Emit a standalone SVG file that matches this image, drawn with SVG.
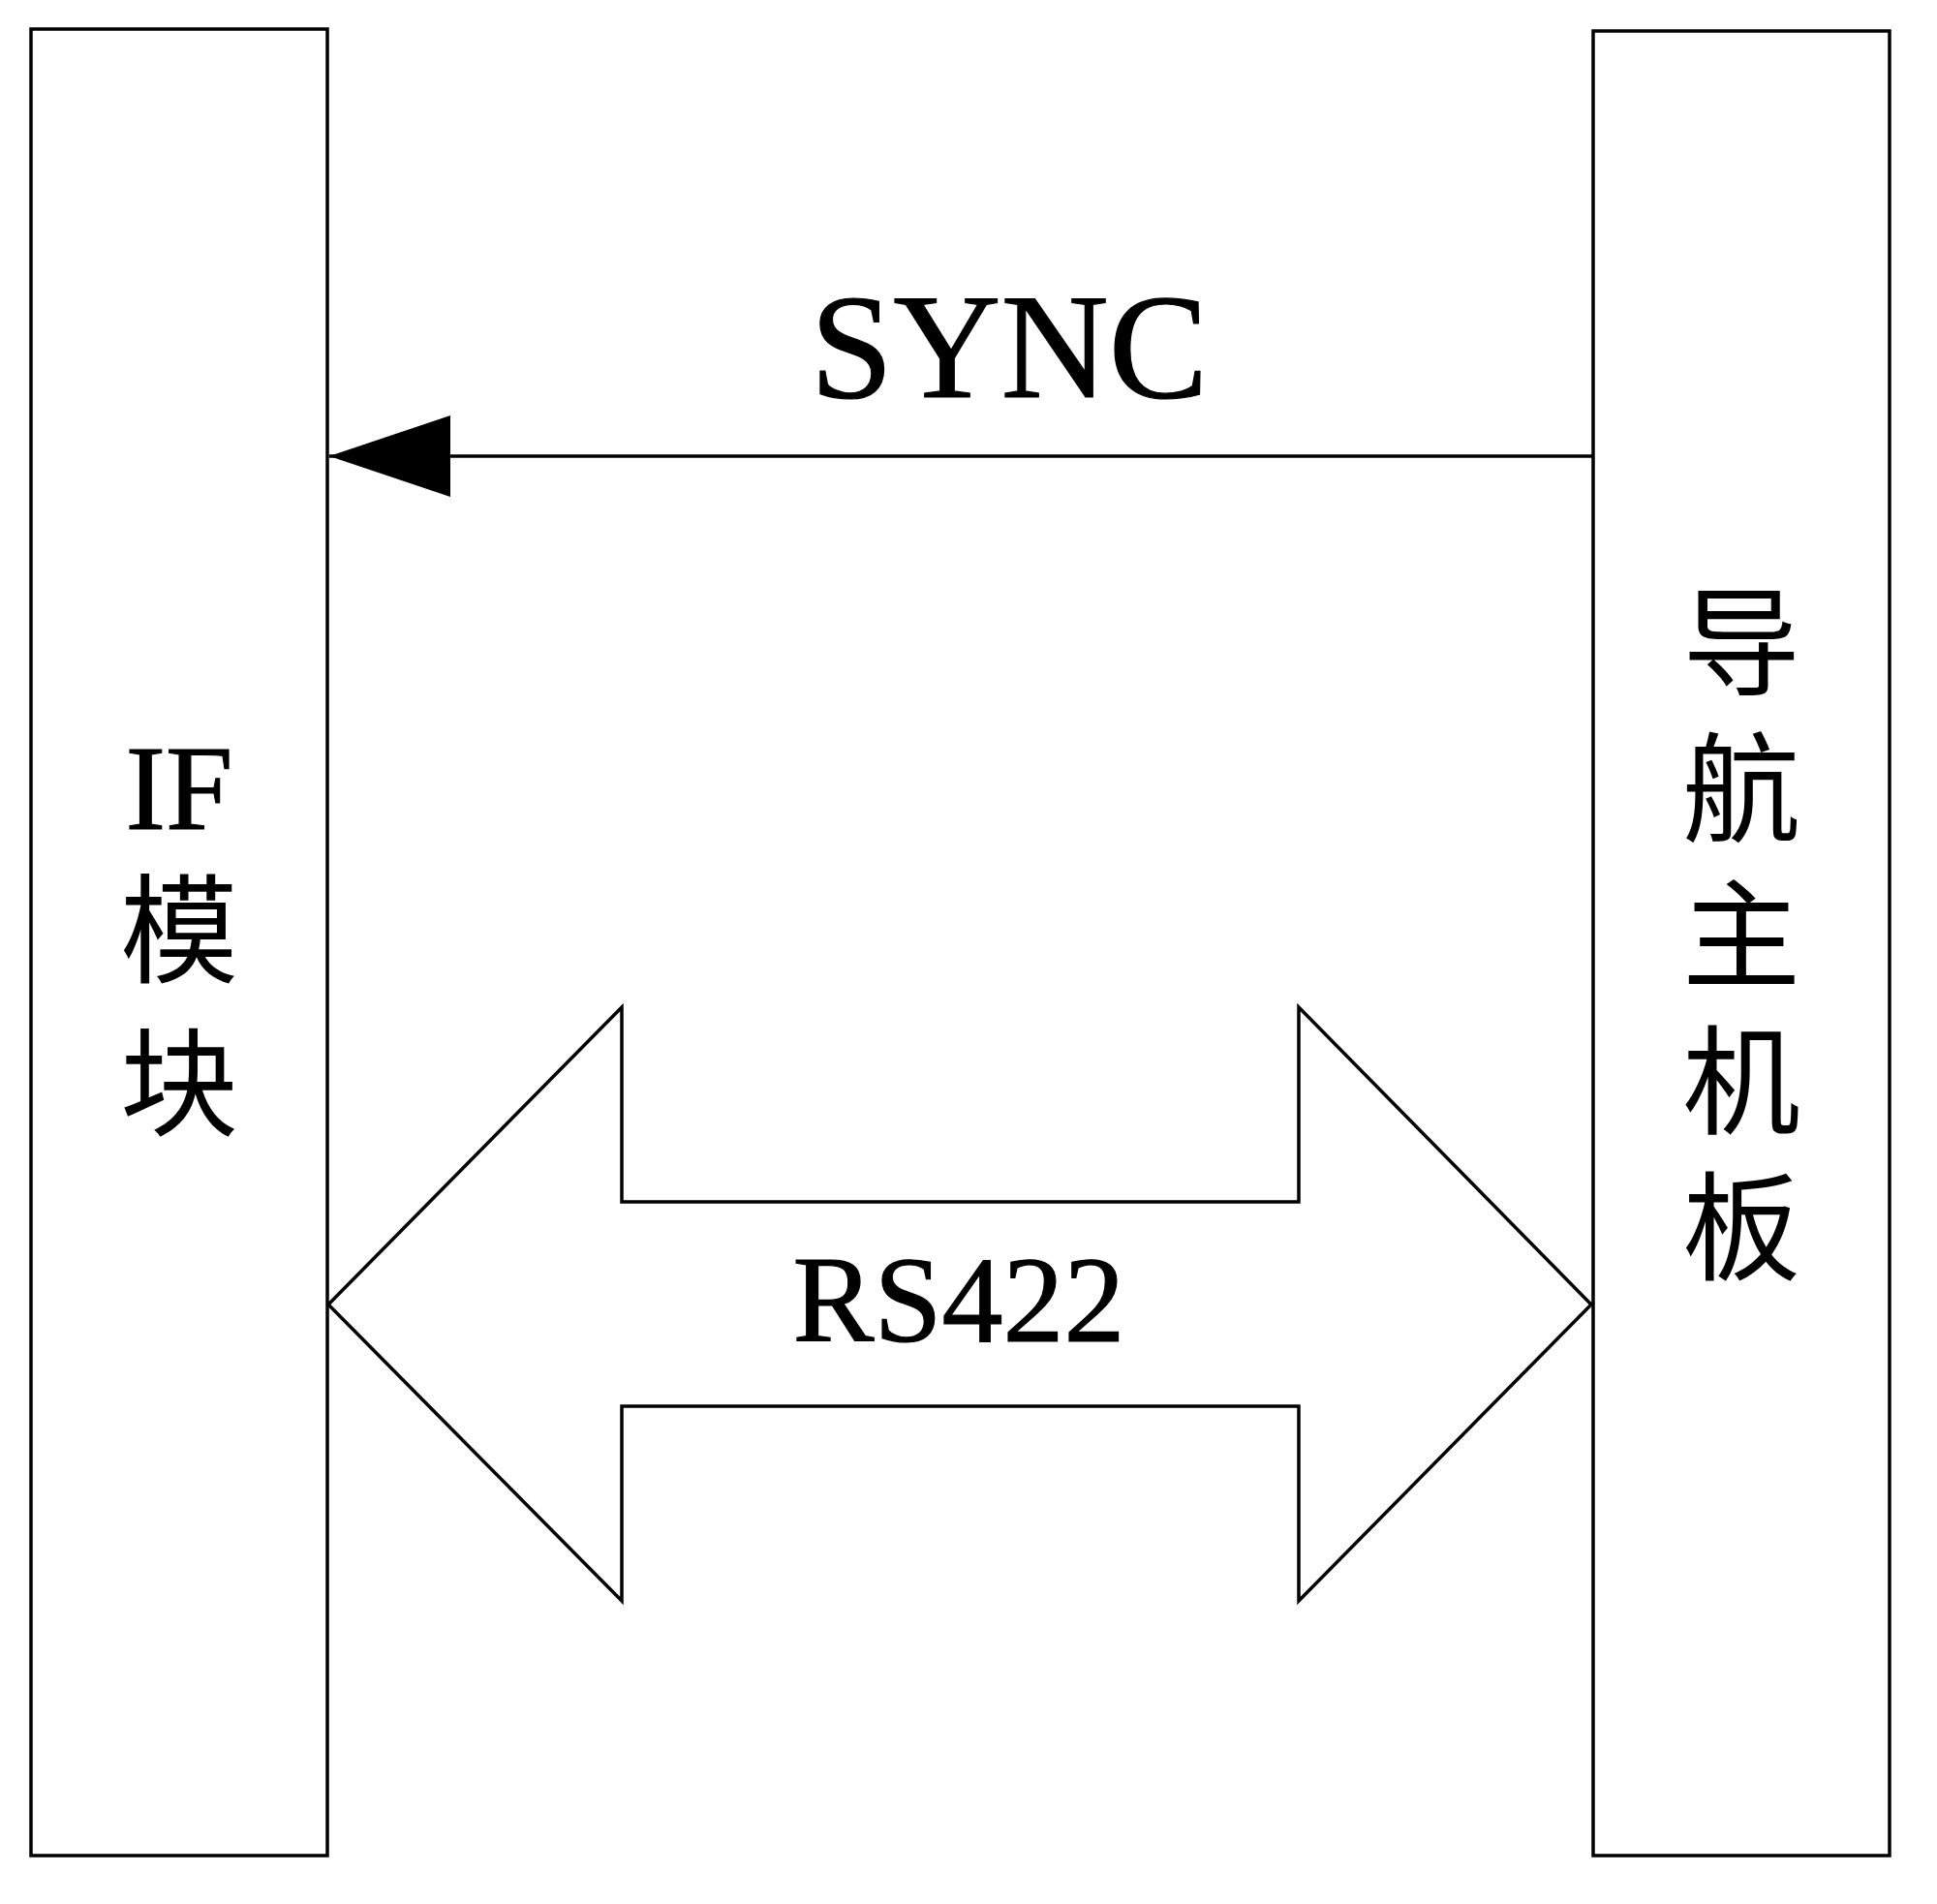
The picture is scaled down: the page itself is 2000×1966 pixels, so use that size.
<svg xmlns="http://www.w3.org/2000/svg" width="2000" height="1966" viewBox="0 0 2000 1966">
<style>
.box{fill:#fff;stroke:#000;stroke-width:3.5}
.lat{font-family:"Liberation Serif","Times New Roman",serif;fill:#000;stroke:#000;stroke-width:1.2;text-anchor:middle}
.cjk{font-family:"Liberation Serif","Noto Sans CJK SC",serif;fill:#000;text-anchor:middle;font-size:122px}
.ln{fill:none;stroke:#000;stroke-width:3.5}
</style>
<defs>
<marker id="ah" markerUnits="userSpaceOnUse" markerWidth="130" markerHeight="90" refX="127" refY="42" orient="auto">
<polygon points="2,0 127,42 2,84" fill="#000"/>
</marker>
</defs>
<rect width="2000" height="1966" fill="#fff"/>
<g id="if-module">
<rect class="box" x="32" y="30" width="306" height="1886"/>
<text class="lat" x="185" y="856" font-size="125">IF</text>
<text class="cjk" x="185" y="1005">模</text>
<text class="cjk" x="185" y="1163">块</text>
</g>
<g id="nav-board">
<rect class="box" x="1645" y="32" width="306" height="1884"/>
<text class="cjk" x="1798" y="708">导</text>
<text class="cjk" x="1798" y="859">航</text>
<text class="cjk" x="1798" y="1010">主</text>
<text class="cjk" x="1798" y="1161">机</text>
<text class="cjk" x="1798" y="1312">板</text>
</g>
<g id="connectors">
<line class="ln" x1="1645" y1="471" x2="340" y2="471" marker-end="url(#ah)"/>
<text class="lat" x="1042" y="410" font-size="154">SYNC</text>
<polygon class="ln" stroke-linejoin="miter" points="339,1347 642,1040 642,1241 1341,1241 1341,1040 1643,1347 1341,1653 1341,1452 642,1452 642,1653"/>
<text class="lat" x="990" y="1385" font-size="126">RS422</text>
</g>
</svg>
